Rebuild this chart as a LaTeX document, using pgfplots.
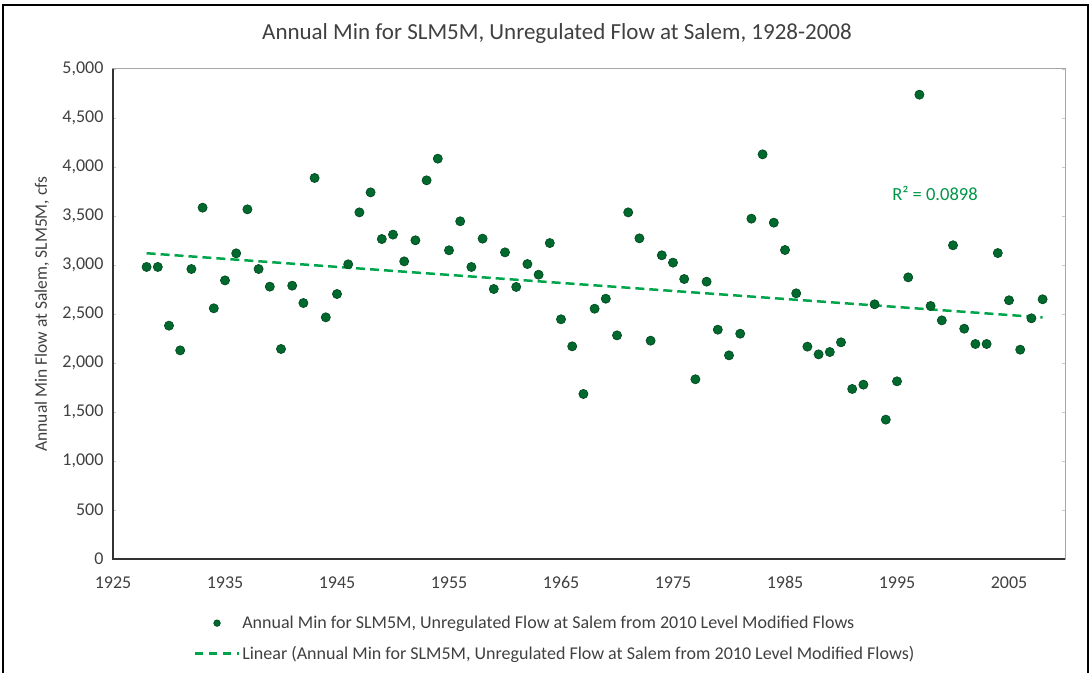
\documentclass[border=0pt]{standalone}
\usepackage{pgfplots}
\pgfplotsset{compat=1.18}
\usepackage{fontspec}
\setmainfont{Carlito}
\definecolor{ptgreen}{RGB}{0,105,45}
\definecolor{ptedge}{RGB}{0,70,30}
\definecolor{trend}{RGB}{0,165,75}
\definecolor{rtxt}{RGB}{0,150,70}
\definecolor{txt}{RGB}{64,64,64}
\pgfplotsset{
  markleg/.style={legend image code/.code={\draw[mark repeat=2,mark phase=2,##1,mark size=3.3pt] plot coordinates {(0pt,0pt)(22pt,0pt)(44pt,0pt)};}},
  lineleg/.style={legend image code/.code={\draw[##1,dash pattern=on 8pt off 6pt] (0pt,0pt) -- (44pt,0pt);}},
}
\begin{document}
\begin{tikzpicture}
\useasboundingbox (-113pt,-113pt) rectangle (978pt,559pt);
\begin{axis}[
  at={(0pt,0pt)}, anchor=south west,
  scale only axis, width=952pt, height=490pt,
  xmin=1925, xmax=2010, ymin=0, ymax=5000,
  xtick={1925,1935,...,2005}, ytick={0,500,...,5000},
  /pgf/number format/assume math mode=true,
  xticklabel style={/pgf/number format/1000 sep={}, yshift=-14pt},
  yticklabel style={/pgf/number format/1000 sep={,}, xshift=-6pt},
  tick label style={font=\fontsize{18}{22}\selectfont, text=txt},
  tick align=inside, major tick length=3pt,
  xtick style={draw=none},
  ytick style={draw=gray!40, line width=0.8pt},
  axis line style={draw=gray!70, line width=1pt},
  ylabel={Annual Min Flow at Salem, SLM5M, cfs},
  every axis y label/.style={at={(axis description cs:-0.0746,0.5)}, rotate=90, anchor=center, font=\fontsize{17.5}{21}\selectfont, text=txt},
  legend style={draw=none, fill=none, at={(axis description cs:0.0815,-0.108)}, anchor=north west, font=\fontsize{18}{22}\selectfont, text=txt, row sep=12pt},
  legend cell align=left,
  clip=false,
]
\addplot[only marks, mark=*, mark size=4.6pt, mark options={fill=ptgreen, draw=ptedge, line width=0.6pt}, markleg]
  table {
x y
1928 2980
1929 2980
1930 2381
1931 2129
1932 2959
1933 3585
1934 2558
1935 2843
1936 3119
1937 3568
1938 2959
1939 2779
1940 2143
1941 2789
1942 2612
1943 3888
1944 2466
1945 2704
1946 3007
1947 3537
1948 3741
1949 3265
1950 3310
1951 3037
1952 3252
1953 3864
1954 4085
1955 3150
1956 3446
1957 2980
1958 3269
1959 2755
1960 3129
1961 2776
1962 3010
1963 2901
1964 3224
1965 2446
1966 2170
1967 1684
1968 2554
1969 2656
1970 2282
1971 3537
1972 3272
1973 2228
1974 3099
1975 3024
1976 2857
1977 1834
1978 2830
1979 2340
1980 2078
1981 2299
1982 3473
1983 4129
1984 3432
1985 3153
1986 2711
1987 2167
1988 2088
1989 2112
1990 2211
1991 1735
1992 1779
1993 2599
1994 1422
1995 1813
1996 2874
1997 4738
1998 2582
1999 2435
2000 3201
2001 2350
2002 2194
2003 2194
2004 3122
2005 2640
2006 2136
2007 2456
2008 2650
};
\addlegendentry{Annual Min for SLM5M, Unregulated Flow at Salem from 2010 Level Modified Flows}
\addplot[trend, line width=2.5pt, dash pattern=on 9pt off 5pt, lineleg]
  coordinates {(1928,3120) (2008,2465)};
\addlegendentry{Linear (Annual Min for SLM5M, Unregulated Flow at Salem from 2010 Level Modified Flows)}
\draw[black!80, line width=1.5pt] (rel axis cs:0,1) -- (rel axis cs:0,0) -- (rel axis cs:1,0);
\node[text=rtxt, font=\fontsize{18.5}{22}\selectfont] at (axis description cs:0.8634,0.747) {R² = 0.0898};
\node[text=txt, font=\fontsize{23}{27}\selectfont] at (axis description cs:0.4664,1.0715) {Annual Min for SLM5M, Unregulated Flow at Salem, 1928-2008};
\end{axis}
\draw[black, line width=2.5pt] (-110pt,-130pt) rectangle (975pt,554pt);
\end{tikzpicture}
\end{document}
